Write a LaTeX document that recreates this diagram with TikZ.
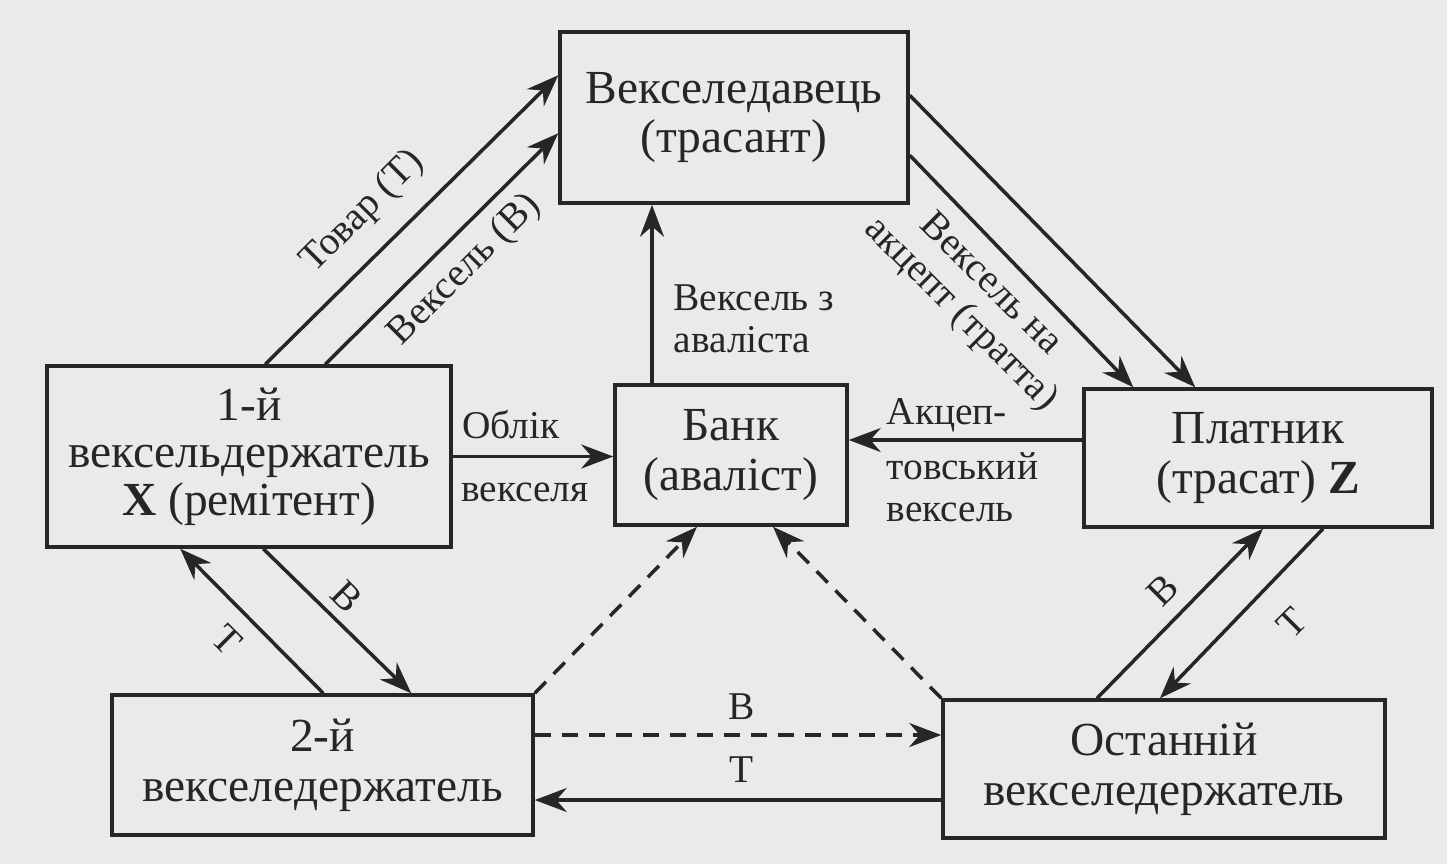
\documentclass[tikz,border=0pt]{standalone}
\usepackage{fontspec}
\setmainfont{Liberation Serif}
\usetikzlibrary{calc,arrows.meta}
\definecolor{paper}{RGB}{234,234,232}
\definecolor{ink}{RGB}{38,38,38}

\begin{document}
\begin{tikzpicture}[x={(0.1mm,0mm)}, y={(0mm,-0.1mm)}]
%styles des noeuds
\tikzstyle{boxw}=[rectangle, draw=ink, line width=1pt, text=ink, align=center, inner sep=0pt, font=\fontsize{13.5}{14.2}\selectfont]
\tikzstyle{textLine}=[rectangle, text=ink, inner sep=0pt, font=\fontsize{11.2}{12}\selectfont]
\tikzstyle{vector}=[-{Stealth[length=3.2mm,width=2.4mm]}, line width=1pt, draw=ink]
\tikzstyle{vectord}=[vector, dash pattern=on 1.6mm off 1.1mm]

\useasboundingbox (0,0) rectangle (1447,864);
\fill[paper] (0,0) rectangle (1447,864);

%participants
\node[boxw, minimum width=34.8mm, minimum height=17.1mm] (seller) at (734,117.5) {Векселедавець\\(трасант)};
\node[boxw, minimum width=40.4mm, minimum height=18.1mm, font=\fontsize{13.5}{13.5}\selectfont] (first) at (249,456.5) {1-й\\вексельдержатель\\\textbf{X} (ремітент)};
\node[boxw, minimum width=23.2mm, minimum height=14mm] (bank) at (731,455) {Банк\\(аваліст)};
\node[boxw, minimum width=34.8mm, minimum height=13.8mm] (payer) at (1258,458) {Платник\\(трасат) \textbf{Z}};
\node[boxw, minimum width=42.1mm, minimum height=14mm] (second) at (322.5,765) {2-й\\векселедержатель};
\node[boxw, minimum width=44.2mm, minimum height=13.8mm] (last) at (1164,769) {Останній\\векселедержатель};

%goods and bill to the drawer
\draw[vector] ($(first.north west)+(220,0)$) -- ($(seller.north west)+(0,45)$);
\draw[vector] ($(first.north west)+(280,0)$) -- ($(seller.north west)+(0,103)$);
\node[textLine, rotate=45] (goods) at (363,212) {Товар (Т)};
\node[textLine, rotate=45] (bill) at (465,270) {Вексель (В)};

%draft for acceptance
\draw[vector] ($(seller.north east)+(0,65)$) -- ($(payer.north west)+(113,0)$);
\draw[vector] ($(seller.north east)+(0,125)$) -- ($(payer.north west)+(51,0)$);
\node[textLine, rotate=-45, align=center] (draft) at (975,300) {Вексель на\\акцепт (тратта)};

%bank
\draw[vector] ($(bank.north)+(-79,0)$) coordinate (up) -- (up |- seller.south);
\node[textLine, anchor=west, align=left] (aval) at (673,319) {Вексель з\\аваліста};
\draw[vector] (first.east) -- (first.east -| bank.west);
\node[textLine] (disc) at (511,425) {Облік};
\node[textLine] (disc2) at (525,492) {векселя};
\draw[vector] ($(payer.west)+(0,-18)$) coordinate (acc) -- (acc -| bank.east);
\node[textLine, anchor=west] (acc1) at (886,415) {Акцеп-};
\node[textLine, anchor=west, align=left] (acc2) at (886,487) {товський\\вексель};

%endorsements
\draw[vector] ($(second.north west)+(213,0)$) -- ($(first.south west)+(135,0)$);
\draw[vector] ($(first.south west)+(218,0)$) -- ($(second.north west)+(301,0)$);
\node[textLine, rotate=-45] (t1) at (227,640) {Т};
\node[textLine, rotate=-45] (b1) at (347,597) {В};

\draw[vectord] (second.north east) -- ($(bank.south)+(-34,0)$);
\draw[vectord] (last.north west) -- ($(bank.south)+(42,0)$);

\draw[vectord] ($(second.east)+(0,-30)$) -- ($(last.west)+(0,-34)$);
\draw[vector] ($(last.west)+(0,31)$) -- ($(second.east)+(0,35)$);
\node[textLine] (b2) at (742,707) {В};
\node[textLine] (t2) at (742,770) {Т};

\draw[vector] ($(last.north)+(-67,0)$) -- ($(payer.south)+(5,0)$);
\draw[vector] ($(payer.south)+(65,0)$) -- ($(last.north)+(-4,0)$);
\node[textLine, rotate=45] (b3) at (1163,590) {В};
\node[textLine, rotate=45] (t3) at (1292,623) {Т};

\end{tikzpicture}
\end{document}
